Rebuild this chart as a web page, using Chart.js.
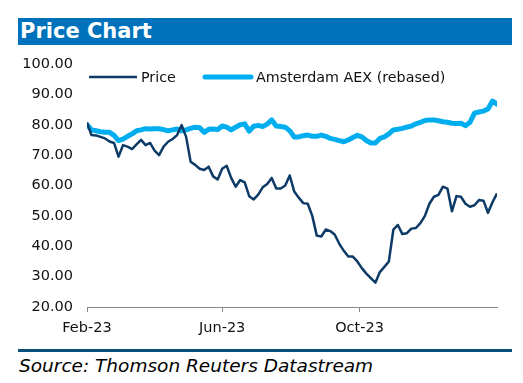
<!DOCTYPE html>
<html>
<head>
<meta charset="utf-8">
<script src="https://cdn.jsdelivr.net/npm/chart.js@4/dist/chart.umd.min.js"></script>
<style>
  html, body { margin: 0; padding: 0; background: #fff; }
  #wrap { position: relative; width: 523px; height: 383px; overflow: hidden; font-family: "DejaVu Sans", Verdana, sans-serif; }
  #title { position: absolute; left: 18px; top: 18px; width: 494px; height: 27px; background: #0072BC; color: #fff;
           font-weight: bold; font-size: 21px; line-height: 27px; padding-left: 2px; box-sizing: border-box; }
  #chartBox { position: absolute; left: 0; top: 45px; width: 523px; height: 300px; }
  #rule { position: absolute; left: 18px; top: 349px; width: 494px; height: 3px; background: #0A4F7C; }
  #source { position: absolute; left: 19px; top: 355px; font-style: italic; font-size: 18.5px; color: #000; white-space: nowrap; }
</style>
</head>
<body>
<div id="wrap">
  <div id="title">Price Chart</div>
  <div id="chartBox"><canvas id="c" width="523" height="300"></canvas></div>
  <div id="rule"></div>
  <div id="source">Source: Thomson Reuters Datastream</div>
</div>
<script>
// Days since 2023-02-01
const days = [0,4,8,12,16,20,24,28,32,36,40,44,48,52,56,60,64,68,72,76,80,84,88,92,96,100,104,108,112,116,120,124,128,132,136,140,144,148,152,156,160,164,168,172,176,180,184,188,192,196,200,204,208,212,216,220,224,228,232,236,240,244,248,252,256,260,264,268,272,276,280,284,288,292,296,300,304,308,312,316,320,324,328,332,336,340,344,348,352,356,360,364];

const priceValues = [80.7,76.6,76.5,76,75.5,74.5,74,69.5,73.3,72.8,72,73.5,75,73.3,74,71.5,70,72.8,74.4,75.3,76.6,79.9,76,67.8,66.8,65.5,65.1,66.2,63,62,65.5,66.5,62.5,59.6,61.8,61,56.5,55.4,57,59.4,60.5,62.5,59,59,60,63.3,58,56,54.2,54,50,43.5,43.2,45.5,45,43.8,40.8,38.5,36.6,36.6,35,32.8,31,29.5,28,31.5,33.2,35,45.5,47,44,44.3,45.8,46,47.6,50,54,56.3,56.9,59.6,59,51.5,56.5,56.3,54,53,53.5,55.2,55,51,54.5,57.4];

const aexValues = [80,78.3,78,77.7,77.5,77.5,76.5,74.8,75.3,76.2,77,78,78.3,78.7,78.6,78.7,78.7,78.4,78,78.3,78.6,78,78.3,78.8,79.2,79,77.5,78.5,78.6,78.4,79.6,79.2,78.3,79.2,80,80.3,77.9,79.5,79.8,79.4,80.2,81.6,79.6,79.4,79.2,78,76,76,76.4,76.6,76.2,76.2,76.6,76.2,75.5,75.2,74.8,74.4,75,75.8,76.5,76,74.8,74,74,75.5,76,77,78.3,78.5,78.8,79.2,79.6,80.3,80.8,81.4,81.6,81.6,81.3,81,80.8,80.5,80.4,80.5,79.7,80.8,83.8,84.2,84.5,85.2,87.8,86.8];

const seriesNames = ["Price", "Amsterdam AEX (rebased)"];
const tickDays = [0, 120, 242];
const tickLabels = ["Feb-23", "Jun-23", "Oct-23"];

const priceColor = "#0D3A66";
const aexColor = "#00AEEF";

const legendPlugin = {
  id: "innerLegend",
  afterDraw(chart) {
    const ctx = chart.ctx;
    const y = 32;
    const items = [
      { x1: 89, x2: 137, tx: 141, w: 2.5, ds: 0 },
      { x1: 205, x2: 251, tx: 256, w: 5, ds: 1 }
    ];
    ctx.save();
    ctx.font = "14.3px 'DejaVu Sans'";
    ctx.textBaseline = "middle";
    items.forEach(it => {
      const ds = chart.data.datasets[it.ds];
      ctx.strokeStyle = ds.borderColor;
      ctx.lineWidth = it.w;
      ctx.lineCap = it.ds === 1 ? "round" : "butt";
      ctx.beginPath();
      ctx.moveTo(it.x1, y);
      ctx.lineTo(it.x2, y);
      ctx.stroke();
      ctx.fillStyle = "#111";
      ctx.fillText(ds.label, it.tx, y + 1);
    });
    ctx.restore();
  }
};

new Chart(document.getElementById("c"), {
  type: "line",
  data: {
    datasets: [
      {
        label: seriesNames[0],
        data: days.map((d, i) => ({ x: d, y: priceValues[i] })),
        borderColor: priceColor,
        borderWidth: 2.5,
        pointRadius: 0,
        tension: 0,
        borderJoinStyle: "round"
      },
      {
        label: seriesNames[1],
        data: days.map((d, i) => ({ x: d, y: aexValues[i] })),
        borderColor: aexColor,
        borderWidth: 5,
        pointRadius: 0,
        tension: 0,
        borderJoinStyle: "round",
        borderCapStyle: "round"
      }
    ]
  },
  options: {
    responsive: false,
    animation: false,
    events: [],
    layout: { padding: { left: 0, right: 26, top: 19, bottom: 0 } },
    plugins: { legend: { display: false }, tooltip: { enabled: false }, title: { display: false } },
    scales: {
      x: {
        type: "linear",
        min: 0,
        max: 364,
        afterBuildTicks(scale) { scale.ticks = tickDays.map(v => ({ value: v })); },
        afterFit(scale) { scale.height = 38; },
        ticks: {
          autoSkip: false,
          maxRotation: 0,
          padding: 8,
          color: "#111",
          font: { family: "DejaVu Sans", size: 14.5 },
          callback: (v) => { const i = tickDays.indexOf(v); return i >= 0 ? tickLabels[i] : ""; }
        },
        grid: { display: true, drawOnChartArea: false, drawTicks: true, tickLength: 5, color: "#888", lineWidth: 1 },
        border: { display: true, color: "#888", width: 1 }
      },
      y: {
        min: 20,
        max: 100,
        afterFit(scale) { scale.width = 87; },
        ticks: {
          stepSize: 10,
          padding: 6,
          color: "#111",
          font: { family: "DejaVu Sans", size: 14.5 },
          callback: (v) => Number(v).toFixed(2)
        },
        grid: { display: false },
        border: { display: false }
      }
    }
  },
  plugins: [legendPlugin]
});
</script>
</body>
</html>
